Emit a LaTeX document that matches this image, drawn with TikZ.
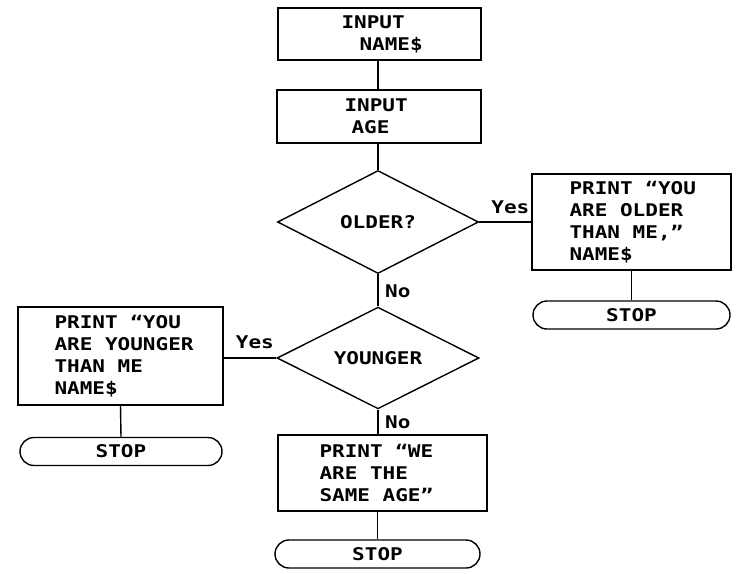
\documentclass[tikz,border=0pt]{standalone}
\usepackage{fontspec}
\newfontfamily\plotfont[FakeStretch=1.2]{DejaVu Sans Mono}
\usetikzlibrary{shapes.geometric,calc}
\begin{document}
\begin{tikzpicture}[x=1pt,y=-1pt,
  every node/.style={font=\plotfont\bfseries\fontsize{17.5}{22}\selectfont},
  box/.style={draw, rectangle, line width=1.4pt, inner sep=0pt},
  txt/.style={anchor=west, align=left, inner sep=0pt},
  decision/.style={draw, diamond, line width=1.4pt, inner sep=0pt},
  terminal/.style={draw, rectangle, rounded corners=14pt, line width=1.4pt,
                   minimum height=28pt, inner sep=0pt},
  flow/.style={line width=1.4pt},
  lbl/.style={inner sep=0pt}]

\useasboundingbox (0,0) rectangle (736,573);

% input steps
\node[box, minimum width=203pt, minimum height=52pt] (inname) at (379.5,34) {};
\node[txt] (inname-t) at ($(inname.west)+(64,0)$) {INPUT\\\hspace*{18pt}NAME\$};

\node[box, minimum width=204pt, minimum height=53pt] (inage) at (379,116.5) {};
\node[txt] (inage-t) at ($(inage.west)+(68,0)$) {INPUT\\\hspace*{7pt}AGE};

% first decision and its branch
\node[decision, minimum width=201pt, minimum height=103pt] (older) at (378,222) {OLDER?};

\node[box, minimum width=199pt, minimum height=96pt] (older-msg) at (631.5,222) {};
\node[txt] (older-t) at ($(older-msg.west)+(38,0)$) {PRINT “YOU\\ARE OLDER\\THAN ME,”\\NAME\$};

\node[terminal, minimum width=197pt] (stop-r) at (631.5,315) {STOP};

% second decision and its branch
\node[decision, minimum width=202pt, minimum height=97pt] (younger) at (378,358) {YOUNGER};

\node[box, minimum width=205pt, minimum height=98pt] (younger-msg) at (120.5,356) {};
\node[txt] (younger-t) at ($(younger-msg.west)+(37,0)$) {PRINT “YOU\\ARE YOUNGER\\THAN ME\\NAME\$};

\node[terminal, minimum width=202pt] (stop-l) at (121,451.5) {STOP};

% same age
\node[box, minimum width=209pt, minimum height=76pt] (same) at (382.5,473) {};
\node[txt] (same-t) at ($(same.west)+(42,0)$) {PRINT “WE\\ARE THE\\SAME AGE”};

\node[terminal, minimum width=205pt] (stop-b) at (377.5,554) {STOP};

% connectors
\draw[flow] (older.north |- inname.south) -- (older.north |- inage.north);
\draw[flow] (older.north |- inage.south) -- (older.north);
\draw[flow] (older.east) -- (older.east -| older-msg.west);
\draw[flow] (older.south) -- (younger.north);
\draw[flow] (younger.west) -- (younger.west -| younger-msg.east);
\draw[flow] (younger.south) -- (younger.south |- same.north);
\draw[flow] (stop-b.north |- same.south) -- (stop-b.north);
\draw[flow] (older-msg.south) -- (stop-r.north);
\draw[flow] (younger-msg.south) -- (stop-l.north);

% branch labels
\node[lbl, anchor=south west] (yes-r) at ($(older.east)+(12,-8)$) {Yes};
\node[lbl, anchor=south west] (yes-l) at ($(younger-msg.east)+(12,-7)$) {Yes};
\node[lbl, anchor=north west] (no-1) at ($(older.south)+(7,10)$) {No};
\node[lbl, anchor=north west] (no-2) at ($(younger.south)+(7,6)$) {No};
\end{tikzpicture}
\end{document}
